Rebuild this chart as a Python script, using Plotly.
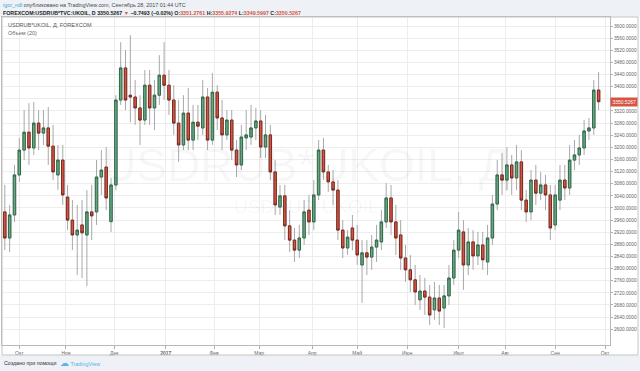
import plotly.graph_objects as go
import pandas as pd

# ---------------- data ----------------
dates = pd.date_range('2016-09-24', periods=124, freq='3D')

opens = [2987, 2901, 2977, 3109, 3191, 3250, 3198, 3280, 3247, 3264,
         3204, 3109, 3158, 3036, 2960, 2911, 2944, 2911, 2987, 2987,
         3102, 3135, 2955, 3076, 3356, 3462, 3372, 3366, 3330, 3290,
         3405, 3330, 3372, 3438, 3405, 3356, 3280, 3208, 3313, 3224,
         3283, 3264, 3366, 3224, 3382, 3297, 3241, 3290, 3191, 3142,
         3231, 3234, 3264, 3287, 3201, 3241, 3119, 3003, 3040, 2941,
         2894, 2861, 2901, 2993, 2954, 3043, 3191, 3119, 3086, 3059,
         2927, 2868, 2934, 2894, 2812, 2852, 2838, 2871, 2888, 2954,
         3033, 2954, 2911, 2835, 2796, 2763, 2697, 2726, 2706, 2664,
         2703, 2670, 2710, 2769, 2861, 2921, 2812, 2888, 2842, 2878,
         2822, 2901, 3013, 3109, 3092, 3142, 3099, 3152, 3026, 2987,
         3092, 3049, 3076, 3043, 2944, 3026, 3092, 3066, 3158, 3175,
         3198, 3254, 3264, 3389]

highs = [3076, 3010, 3142, 3231, 3323, 3346, 3349, 3323, 3323, 3333,
         3274, 3208, 3208, 3076, 3026, 3010, 3026, 3059, 3076, 3158,
         3191, 3201, 3099, 3372, 3547, 3521, 3570, 3422, 3372, 3455,
         3455, 3422, 3504, 3547, 3455, 3405, 3356, 3372, 3396, 3340,
         3340, 3422, 3396, 3445, 3405, 3356, 3323, 3323, 3224, 3274,
         3323, 3340, 3330, 3323, 3307, 3274, 3158, 3076, 3076, 2993,
         2934, 2944, 3026, 3043, 3092, 3224, 3231, 3142, 3125, 3092,
         2960, 2927, 2977, 2944, 2894, 2894, 2911, 2944, 2993, 3082,
         3076, 3010, 2960, 2878, 2845, 2812, 2779, 2769, 2746, 2756,
         2746, 2746, 2812, 2894, 2987, 2960, 2934, 2927, 2921, 2921,
         2944, 3043, 3158, 3181, 3201, 3175, 3208, 3191, 3059, 3125,
         3142, 3119, 3109, 3076, 3076, 3142, 3142, 3208, 3224, 3241,
         3290, 3297, 3422, 3448]

lows = [2861, 2855, 2954, 3086, 3158, 3142, 3175, 3191, 3208, 3142,
        3092, 3059, 3010, 2927, 2861, 2779, 2769, 2742, 2894, 2944,
        3043, 2993, 2921, 3059, 3340, 3323, 3283, 3274, 3208, 3274,
        3274, 3257, 3340, 3356, 3307, 3241, 3152, 3191, 3191, 3191,
        3224, 3241, 3191, 3208, 3257, 3191, 3224, 3158, 3102, 3125,
        3191, 3208, 3224, 3165, 3165, 3092, 2977, 2977, 2894, 2855,
        2822, 2835, 2878, 2911, 2927, 3026, 3092, 3053, 3010, 2894,
        2835, 2845, 2861, 2812, 2687, 2779, 2796, 2822, 2861, 2934,
        2911, 2845, 2796, 2756, 2723, 2680, 2664, 2647, 2614, 2631,
        2614, 2604, 2680, 2746, 2835, 2730, 2779, 2796, 2812, 2796,
        2779, 2878, 2993, 3043, 3059, 3043, 3059, 2993, 2954, 2960,
        3010, 3026, 2993, 2894, 2927, 2993, 3026, 3043, 3125, 3142,
        3175, 3224, 3241, 3323]

closes = [2901, 2977, 3109, 3191, 3250, 3198, 3280, 3247, 3264, 3204,
          3119, 3158, 3043, 2960, 2911, 2927, 2918, 2987, 2974, 3102,
          3125, 3033, 3076, 3356, 3462, 3356, 3366, 3330, 3290, 3405,
          3330, 3372, 3438, 3405, 3356, 3280, 3208, 3313, 3224, 3283,
          3270, 3366, 3224, 3382, 3297, 3241, 3290, 3191, 3142, 3234,
          3241, 3264, 3287, 3201, 3241, 3119, 3010, 3040, 2941, 2894,
          2861, 2901, 2987, 2954, 3043, 3191, 3119, 3086, 3059, 2927,
          2868, 2904, 2894, 2845, 2852, 2838, 2871, 2894, 2954, 3033,
          2954, 2901, 2835, 2796, 2763, 2723, 2726, 2706, 2647, 2703,
          2660, 2710, 2769, 2861, 2927, 2812, 2888, 2842, 2878, 2829,
          2901, 3013, 3109, 3092, 3142, 3099, 3152, 3026, 2987, 3092,
          3049, 3076, 3043, 2934, 3043, 3092, 3066, 3158, 3175, 3198,
          3254, 3264, 3389, 3350.5267]

month_ticks = ['2016-10-03', '2016-11-01', '2016-12-01', '2017-01-02', '2017-02-01',
               '2017-03-01', '2017-04-03', '2017-05-01', '2017-06-01', '2017-07-03',
               '2017-08-01', '2017-09-01', '2017-10-02']
month_labels = ['Окт', 'Ноя', 'Дек', '<b>2017</b>', 'Фев', 'Мар', 'Апр', 'Май',
                'Июн', 'Июл', 'Авг', 'Сен', 'Окт']
price_ticks = list(range(2600, 3601, 40))
last_close = 3350.5267

# ---------------- geometry helpers ----------------
W, H = 640, 371
ML, MR, MT, MB = 2, 30, 17, 26
PW = W - ML - MR
PH = H - MT - MB


def px(x):
    return (x - ML) / PW


def py(y):
    return (H - MB - y) / PH


FONT = 'Liberation Sans'
UP, DOWN = '#6ba583', '#d75442'
UP_B, DOWN_B = '#2f6b49', '#7a2a1f'
WICK = '#a8a8aa'

body_hi = [max(o, c) for o, c in zip(opens, closes)]
body_lo = [min(o, c) for o, c in zip(opens, closes)]

# price label covers the nearest tick label, as on the reference
price_text = ['' if abs(v - last_close) < 20 else f'{v:.4f}' for v in price_ticks]

fig = go.Figure()
# wicks
fig.add_trace(go.Candlestick(
    x=dates, open=opens, high=highs, low=lows, close=closes,
    increasing=dict(line=dict(color=WICK, width=1), fillcolor='rgba(0,0,0,0)'),
    decreasing=dict(line=dict(color=WICK, width=1), fillcolor='rgba(0,0,0,0)'),
    whiskerwidth=0, showlegend=False, hoverinfo='skip'))
# bodies
fig.add_trace(go.Candlestick(
    x=dates, open=opens, high=body_hi, low=body_lo, close=closes,
    increasing=dict(line=dict(color=UP_B, width=1), fillcolor=UP),
    decreasing=dict(line=dict(color=DOWN_B, width=1), fillcolor=DOWN),
    whiskerwidth=0, showlegend=False, hoverinfo='skip'))

RED = '#d75442'
annotations = [
    dict(x=px(1), y=py(4.5), xref='paper', yref='paper', xanchor='left', yanchor='middle',
         showarrow=False, font=dict(size=5.4, color='#4a4a4a', family=FONT),
         text="<span style='color:#3aa6dd'>igor_ndl</span> опубликовано на TradingView.com, Сентябрь 28, 2017 01:44 UTC"),
    dict(x=px(1), y=py(12.5), xref='paper', yref='paper', xanchor='left', yanchor='middle',
         showarrow=False, font=dict(size=5.3, color='#222', family=FONT),
         text=("<b>FOREXCOM:USDRUB*TVC:UKOIL, D 3350.5267 "
               f"<span style='color:{RED}'>▼</span> −0.7493 (−0.02%) "
               f"O:<span style='color:{RED}'>3351.2761</span> "
               f"H:<span style='color:{RED}'>3355.9274</span> "
               f"L:<span style='color:{RED}'>3349.5997</span> "
               f"C:<span style='color:{RED}'>3350.5267</span></b>")),
    dict(x=px(6), y=py(25), xref='paper', yref='paper', xanchor='left', yanchor='middle',
         showarrow=False, font=dict(size=5.5, color='#555', family=FONT),
         text='USDRUB*UKOIL, Д, FOREXCOM'),
    dict(x=px(6), y=py(33), xref='paper', yref='paper', xanchor='left', yanchor='middle',
         showarrow=False, font=dict(size=5.5, color='#666', family=FONT),
         text='Объем (20)'),
    dict(x=0.5, y=py(165), xref='paper', yref='paper', xanchor='center', yanchor='middle',
         showarrow=False, font=dict(size=46, color='rgba(0,0,0,0.045)', family=FONT),
         text='USDRUB*UKOIL, Д'),
    dict(x=0.5, y=py(206), xref='paper', yref='paper', xanchor='center', yanchor='middle',
         showarrow=False, font=dict(size=19, color='rgba(0,0,0,0.045)', family=FONT),
         text='USDRUB*UKOIL'),
    dict(x=1, y=last_close, xref='paper', yref='y', xanchor='left', yanchor='middle',
         showarrow=False, bgcolor=RED, borderpad=1.5, font=dict(size=4.9, color='white', family=FONT),
         text=f'{last_close:.4f}'),
    dict(x=px(2), y=py(363), xref='paper', yref='paper', xanchor='left', yanchor='middle',
         showarrow=False, font=dict(size=5.3, color='#333', family=FONT),
         text='Создано при помощи'),
    dict(x=px(58), y=py(363), xref='paper', yref='paper', xanchor='left', yanchor='middle',
         showarrow=False, font=dict(size=5.4, color='#5ab4e6', family=FONT),
         text="<span style='font-size:9px'>☁</span> TradingView"),
]

shapes = [
    # white chart panel
    dict(type='rect', xref='paper', yref='paper', x0=px(0), x1=px(640), y0=py(355), y1=py(17),
         fillcolor='white', line=dict(width=0), layer='below'),
    # outer frame
    dict(type='rect', xref='paper', yref='paper', x0=px(2), x1=px(638), y0=py(355), y1=py(17),
         fillcolor='rgba(0,0,0,0)', line=dict(color='#c4c4c4', width=1), layer='above'),
]

fig.update_layout(
    width=W, height=H,
    margin=dict(l=ML, r=MR, t=MT, b=MB),
    paper_bgcolor='#eef1f5', plot_bgcolor='white',
    font=dict(family=FONT, size=5, color='#555'),
    showlegend=False,
    annotations=annotations, shapes=shapes,
    xaxis=dict(
        type='date', range=['2016-09-22 06:00', '2017-10-05 02:00'],
        rangeslider=dict(visible=False),
        tickmode='array', tickvals=month_ticks, ticktext=month_labels,
        showgrid=True, gridcolor='#ededed', gridwidth=1,
        ticks='outside', ticklen=3, tickcolor='#b0b0b0',
        tickfont=dict(size=5, color='#666', family=FONT),
        showline=True, mirror=True, linecolor='#b8b8b8', linewidth=1,
        zeroline=False, fixedrange=True),
    yaxis=dict(
        side='right', range=[2548, 3630],
        tickmode='array', tickvals=price_ticks, ticktext=price_text,
        showgrid=True, gridcolor='#ededed', gridwidth=1,
        ticks='outside', ticklen=2, tickcolor='#b0b0b0',
        tickfont=dict(size=4.8, color='#666', family=FONT),
        showline=True, mirror=True, linecolor='#b8b8b8', linewidth=1,
        zeroline=False, fixedrange=True),
    boxgap=0.28,
)

fig.write_html('out.html')
